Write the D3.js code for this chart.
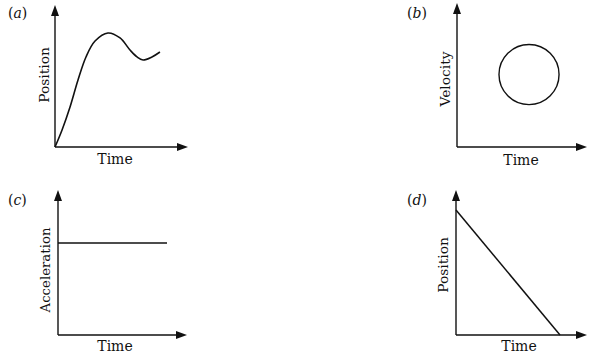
<!DOCTYPE html>
<html><head><meta charset="utf-8">
<script src="https://cdn.jsdelivr.net/npm/d3@7"></script>
<style>body{margin:0;background:#fff}svg{display:block}</style>
</head><body><svg id="c" width="596" height="355"></svg>
<script>
// Panel (a): position vs time curve
const aTime = [0, 0.53, 1.13, 1.73, 2.33, 3.01, 3.98, 4.89, 5.64, 6.17, 6.62, 7.29, 7.89];
const aPosition = [0, 1.2, 2.82, 4.72, 6.34, 7.46, 8.03, 7.68, 6.83, 6.34, 6.13, 6.34, 6.69];
// Panel (b): velocity circle (center time, center velocity, radius in time units)
const bCircleT = [5.54];
const bCircleV = [5.03];
const bCircleR = [2.31];
// Panel (c): constant acceleration
const cTime = [0, 8.45];
const cAccel = [6.34, 6.34];
// Panel (d): linearly decreasing position
const dTime = [0, 7.94];
const dPosition = [8.62, 0];

const panelLabels = ["a", "b", "c", "d"];
const yLabels = ["Position", "Velocity", "Acceleration", "Position"];
const xLabel = "Time";

const svg = d3.select("#c");
const FONT = "DejaVu Serif, Liberation Serif, serif";

const panels = [
  {ox:55, oy:147, tx:188, ty:5, lx:8, ly:18, ylx:49, yly:75, tcx:115, tby:164},
  {ox:457, oy:147, tx:587, ty:3, lx:407, ly:18, ylx:450, yly:79, tcx:521, tby:165},
  {ox:58, oy:335, tx:187, ty:190, lx:8, ly:205, ylx:50, yly:270, tcx:115, tby:351},
  {ox:456, oy:335, tx:587, ty:190, lx:407, ly:205, ylx:448, yly:265, tcx:519, tby:351}
];

panels.forEach((p, i) => {
  p.x = d3.scaleLinear().domain([0, 10]).range([p.ox, p.tx]);
  p.y = d3.scaleLinear().domain([0, 10]).range([p.oy, p.ty]);
  const g = svg.append("g");
  g.append("line").attr("x1", p.x(0)).attr("y1", p.y(0)).attr("x2", p.x(0)).attr("y2", p.y(10) + 4)
    .attr("stroke", "#111").attr("stroke-width", 1.4);
  g.append("line").attr("x1", p.x(0)).attr("y1", p.y(0)).attr("x2", p.x(10) - 4).attr("y2", p.y(0))
    .attr("stroke", "#111").attr("stroke-width", 1.4);
  const X0 = p.x(0), Yt = p.y(10), Xt = p.x(10), Y0 = p.y(0);
  g.append("path").attr("d", `M${X0},${Yt} L${X0-4},${Yt+11} L${X0+4},${Yt+11} Z`).attr("fill", "#111");
  g.append("path").attr("d", `M${Xt},${Y0} L${Xt-11},${Y0-4} L${Xt-11},${Y0+4} Z`).attr("fill", "#111");
  const lab = g.append("text").attr("x", p.lx).attr("y", p.ly).attr("font-family", FONT)
    .attr("font-size", 14).attr("fill", "#111");
  lab.append("tspan").text("(");
  lab.append("tspan").attr("font-style", "italic").text(panelLabels[i]);
  lab.append("tspan").text(")");
  g.append("text").attr("transform", `translate(${p.ylx},${p.yly}) rotate(-90)`)
    .attr("text-anchor", "middle").attr("font-family", FONT).attr("font-size", i === 2 ? 13.3 : 13.8)
    .attr("fill", "#111").text(yLabels[i]);
  g.append("text").attr("x", p.tcx).attr("y", p.tby).attr("text-anchor", "middle")
    .attr("font-family", FONT).attr("font-size", 14).attr("fill", "#111").text(xLabel);
});

// (a) curve
{
  const p = panels[0];
  const pts = aTime.map((t, i) => [t, aPosition[i]]);
  svg.append("path").datum(pts)
    .attr("d", d3.line().x(d => p.x(d[0])).y(d => p.y(d[1])).curve(d3.curveCatmullRom.alpha(0.5)))
    .attr("fill", "none").attr("stroke", "#111").attr("stroke-width", 1.6);
}
// (b) circle
{
  const p = panels[1];
  bCircleT.forEach((t, i) => {
    svg.append("circle").attr("cx", p.x(t)).attr("cy", p.y(bCircleV[i]))
      .attr("r", p.x(t + bCircleR[i]) - p.x(t))
      .attr("fill", "none").attr("stroke", "#111").attr("stroke-width", 1.4);
  });
}
// (c) line
{
  const p = panels[2];
  const pts = cTime.map((t, i) => [t, cAccel[i]]);
  svg.append("path").datum(pts).attr("d", d3.line().x(d => p.x(d[0])).y(d => p.y(d[1])))
    .attr("fill", "none").attr("stroke", "#111").attr("stroke-width", 1.5);
}
// (d) line
{
  const p = panels[3];
  const pts = dTime.map((t, i) => [t, dPosition[i]]);
  svg.append("path").datum(pts).attr("d", d3.line().x(d => p.x(d[0])).y(d => p.y(d[1])))
    .attr("fill", "none").attr("stroke", "#111").attr("stroke-width", 1.5);
}
</script></body></html>
